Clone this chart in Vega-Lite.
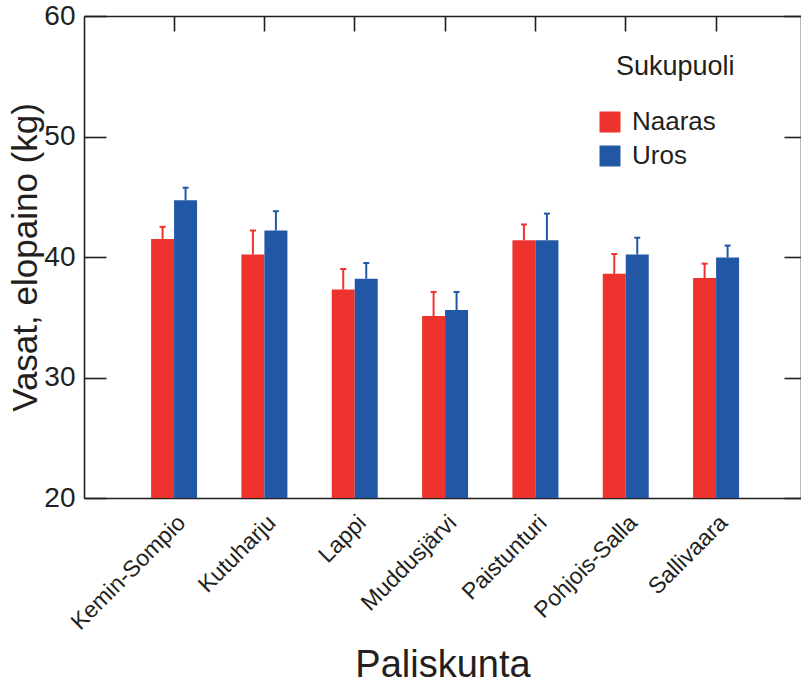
{
  "$schema": "https://vega.github.io/schema/vega-lite/v6.json",
  "autosize": "none",
  "width": 717,
  "height": 482,
  "padding": {"left": 84, "top": 16, "right": 0, "bottom": 188},
  "config": {
    "font": "Liberation Sans",
    "view": {"stroke": null},
    "axis": {
      "domainColor": "#231F20",
      "domainWidth": 1.6,
      "tickColor": "#231F20",
      "tickWidth": 1.6,
      "labelColor": "#231F20",
      "titleColor": "#231F20",
      "grid": false
    },
    "legend": {"labelColor": "#231F20", "titleColor": "#231F20"}
  },
  "data": {
    "values": [
      {"Paliskunta": "Kemin-Sompio", "Sukupuoli": "Naaras", "paino": 41.5, "ylaraja": 42.5},
      {"Paliskunta": "Kemin-Sompio", "Sukupuoli": "Uros", "paino": 44.7, "ylaraja": 45.75},
      {"Paliskunta": "Kutuharju", "Sukupuoli": "Naaras", "paino": 40.2, "ylaraja": 42.2},
      {"Paliskunta": "Kutuharju", "Sukupuoli": "Uros", "paino": 42.2, "ylaraja": 43.8},
      {"Paliskunta": "Lappi", "Sukupuoli": "Naaras", "paino": 37.3, "ylaraja": 39.0},
      {"Paliskunta": "Lappi", "Sukupuoli": "Uros", "paino": 38.2, "ylaraja": 39.5},
      {"Paliskunta": "Muddusjärvi", "Sukupuoli": "Naaras", "paino": 35.1, "ylaraja": 37.1},
      {"Paliskunta": "Muddusjärvi", "Sukupuoli": "Uros", "paino": 35.6, "ylaraja": 37.1},
      {"Paliskunta": "Paistunturi", "Sukupuoli": "Naaras", "paino": 41.4, "ylaraja": 42.7},
      {"Paliskunta": "Paistunturi", "Sukupuoli": "Uros", "paino": 41.4, "ylaraja": 43.6},
      {"Paliskunta": "Pohjois-Salla", "Sukupuoli": "Naaras", "paino": 38.6, "ylaraja": 40.25},
      {"Paliskunta": "Pohjois-Salla", "Sukupuoli": "Uros", "paino": 40.2, "ylaraja": 41.6},
      {"Paliskunta": "Sallivaara", "Sukupuoli": "Naaras", "paino": 38.25, "ylaraja": 39.45},
      {"Paliskunta": "Sallivaara", "Sukupuoli": "Uros", "paino": 39.95, "ylaraja": 40.95}
    ]
  },
  "resolve": {"axis": {"x": "independent", "y": "independent"}},
  "layer": [
    {
      "mark": {"type": "bar", "opacity": 1},
      "encoding": {
        "x": {
          "field": "Paliskunta", "type": "nominal", "sort": null,
          "scale": {"paddingInner": 0.491, "paddingOuter": 0.714, "align": 0.52},
          "axis": {
            "orient": "bottom", "ticks": false, "labelAngle": -45, "labelFontSize": 23,
            "labelPadding": 13, "title": "Paliskunta", "titleFontSize": 38,
            "titleFontWeight": "normal", "titlePadding": 13
          }
        },
        "xOffset": {"field": "Sukupuoli", "type": "nominal", "sort": ["Naaras", "Uros"]},
        "y": {
          "field": "paino", "type": "quantitative",
          "scale": {"domain": [20, 60], "nice": false, "zero": false},
          "axis": {
            "orient": "left", "values": [20, 30, 40, 50, 60], "tickSize": -22,
            "labelPadding": 31, "labelFontSize": 28, "title": "Vasat, elopaino (kg)",
            "titleFontSize": 35, "titleFontWeight": "normal", "titlePadding": 0
          }
        },
        "y2": {"datum": 20},
        "color": {
          "field": "Sukupuoli", "type": "nominal",
          "scale": {"domain": ["Naaras", "Uros"], "range": ["#EE322E", "#2257A6"]},
          "legend": {
            "orient": "none", "legendX": 532, "legendY": 38, "title": "Sukupuoli",
            "titleFontSize": 27, "titleFontWeight": "normal", "titlePadding": 28,
            "labelFontSize": 26, "symbolType": "square", "symbolSize": 441,
            "symbolStrokeWidth": 0, "symbolOpacity": 1, "symbolOffset": -19,
            "labelOffset": 9, "rowPadding": 8
          }
        }
      }
    },
    {
      "mark": {"type": "rule", "strokeWidth": 2, "opacity": 1},
      "encoding": {
        "x": {"field": "Paliskunta", "type": "nominal", "sort": null, "axis": null},
        "xOffset": {"field": "Sukupuoli", "type": "nominal", "sort": ["Naaras", "Uros"]},
        "y": {
          "field": "paino", "type": "quantitative",
          "axis": {
            "orient": "right", "values": [20, 30, 40, 50, 60], "tickSize": -17,
            "labels": false, "title": null
          }
        },
        "y2": {"field": "ylaraja"},
        "color": {"field": "Sukupuoli", "type": "nominal"}
      }
    },
    {
      "mark": {"type": "tick", "thickness": 2, "size": 6, "opacity": 1},
      "encoding": {
        "x": {
          "field": "Paliskunta", "type": "nominal", "sort": null,
          "axis": {"orient": "top", "labels": false, "tickSize": -15, "title": null}
        },
        "xOffset": {"field": "Sukupuoli", "type": "nominal", "sort": ["Naaras", "Uros"]},
        "y": {"field": "ylaraja", "type": "quantitative", "axis": null},
        "color": {"field": "Sukupuoli", "type": "nominal"}
      }
    }
  ]
}
